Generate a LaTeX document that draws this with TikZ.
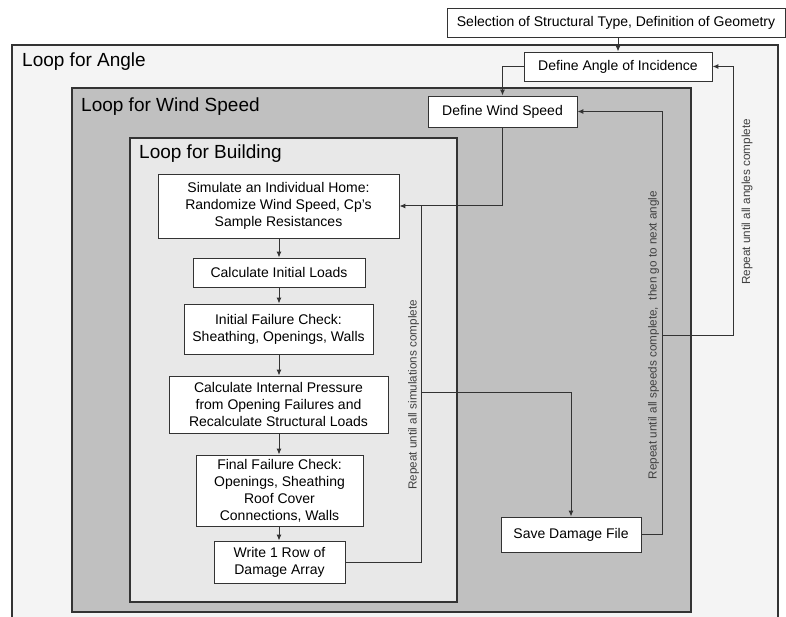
\documentclass[tikz,border=0pt]{standalone}
\usepackage{fontspec}
\setmainfont{Liberation Sans}
\usetikzlibrary{arrows.meta}
\definecolor{anglefill}{HTML}{F4F4F4}
\definecolor{speedfill}{HTML}{C0C0C0}
\definecolor{bldgfill}{HTML}{E8E8E8}
\definecolor{linec}{HTML}{333333}
\begin{document}
\begin{tikzpicture}[x=1pt,y=-1pt,
  box/.style={draw=linec, fill=white, line width=0.9pt, align=center,
    font=\fontsize{14}{17}\selectfont, inner sep=0pt},
  conn/.style={draw=linec, line width=1pt},
  arr/.style={conn, -{Latex[length=6pt,width=5pt]}},
  loopbox/.style={draw=linec, line width=1.2pt},
  looplabel/.style={anchor=west, font=\fontsize{19}{22}\selectfont, inner sep=0pt},
  rot/.style={rotate=90, font=\fontsize{11.7}{13}\selectfont, text=black!75, inner sep=0pt}]
\useasboundingbox (0,0) rectangle (786,617);
\fill[white] (0,0) rectangle (786,617);
\clip (0,0) rectangle (786,617);
% loop frames
\draw[loopbox, fill=anglefill] (12,45) rectangle (778,640);
\draw[loopbox, fill=speedfill] (72,88) rectangle (691,612);
\draw[loopbox, fill=bldgfill] (130,138) rectangle (457,602);
\node[looplabel] (langle) at (22,62) {Loop for Angle};
\node[looplabel] (lspeed) at (81,107) {Loop for Wind Speed};
\node[looplabel] (lbldg) at (139,154) {Loop for Building};
% boxes
\node[box, minimum width=338, minimum height=29] (sel) at (616,22.5) {Selection of Structural Type, Definition of Geometry};
\node[box, minimum width=188, minimum height=29] (ang) at (618,66.5) {Define Angle of Incidence};
\node[box, minimum width=149, minimum height=31] (ws) at (502.5,111.5) {Define Wind Speed};
\node[box, minimum width=241, minimum height=64] (sim) at (278.5,206) {Simulate an Individual Home:\\Randomize Wind Speed, Cp's\\Sample Resistances};
\node[box, minimum width=172, minimum height=29] (cil) at (279,272.5) {Calculate Initial Loads};
\node[box, minimum width=189, minimum height=50] (ifc) at (278.5,329) {Initial Failure Check:\\Sheathing, Openings, Walls};
\node[box, minimum width=219, minimum height=57] (cip) at (278.5,404.5) {Calculate Internal Pressure\\from Opening Failures and\\Recalculate Structural Loads};
\node[box, minimum width=167, minimum height=71] (ffc) at (279.5,490.5) {Final Failure Check:\\Openings, Sheathing\\Roof Cover\\Connections, Walls};
\node[box, minimum width=131, minimum height=42] (wr) at (279.5,562) {Write 1 Row of\\Damage Array};
\node[box, minimum width=140, minimum height=35] (sdf) at (571,534.5) {Save Damage File};
% helper coordinates
\coordinate (xsim) at (421,0);
\coordinate (jp) at (421,392);
\coordinate (xspd) at (662,0);
\coordinate (js) at (662,335);
\coordinate (xang) at (733,0);
% connectors
\draw[arr] (sel.south -| ang.north) -- (ang.north);
\draw[arr] (ang.west) -| (ws.north);
\draw[arr] (ws.south) |- (sim.east);
\draw[arr] (sim.south -| cil.north) -- (cil.north);
\draw[arr] (cil.south) -- (cil.south |- ifc.north);
\draw[arr] (ifc.south -| cil.south) -- (cil.south |- cip.north);
\draw[arr] (cip.south -| cil.south) -- (cil.south |- ffc.north);
\draw[arr] (ffc.south -| cil.south) -- (cil.south |- wr.north);
\draw[conn] (wr.east) -| (xsim |- sim.east);
\draw[arr] (jp) -| (sdf.north);
\draw[arr] (sdf.east) -| (xspd |- ws.east) -- (ws.east);
\draw[arr] (js) -| (xang |- ang.east) -- (ang.east);
% loop labels
\node[rot] (tsim) at (413.5,395) {Repeat until all simulations complete};
\node[rot] (tspd) at (653.5,335) {Repeat until all speeds complete,\ \ then go to next angle};
\node[rot] (tang) at (747,202) {Repeat until all angles complete};
\end{tikzpicture}
\end{document}
